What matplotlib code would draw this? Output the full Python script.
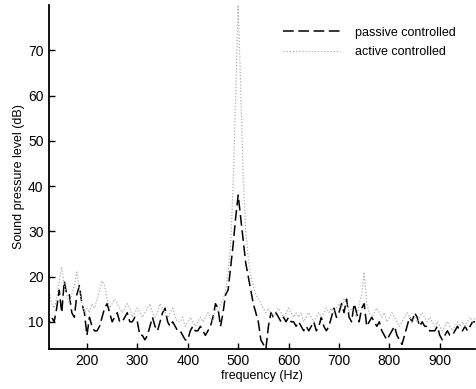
import numpy as np
import matplotlib.pyplot as plt

# =========================================================
# DATA (5 Hz steps)
# =========================================================

freq = np.arange(120, 975, 5)

passive = [
    12, 10, 11, 10, 13, 17, 12, 19, 16, 16, 12, 11, 16, 18, 14, 12,
    7, 11, 9, 8, 8, 9, 11, 13, 14, 12, 10, 11, 12, 10, 10, 11,
    12, 10, 10, 11, 10, 7, 7, 6, 7, 9, 11, 9, 8, 10, 12, 13,
    10, 9, 10, 9, 8, 8, 7, 6, 6, 8, 9, 8, 8, 9, 8, 7,
    8, 9, 11, 14, 13, 9, 12, 16, 17, 22, 27, 33, 38, 33, 28, 23,
    20, 17, 14, 12, 10, 6, 5, 4, 9, 12, 11, 12, 11, 10, 11, 10,
    11, 10, 10, 9, 10, 9, 8, 9, 8, 9, 10, 8, 9, 11, 9, 8,
    9, 11, 13, 11, 12, 14, 12, 15, 11, 10, 14, 12, 10, 13, 14, 9,
    10, 11, 10, 9, 10, 8, 7, 6, 7, 8, 9, 7, 6, 5, 7, 9,
    11, 10, 12, 11, 9, 10, 9, 9, 8, 8, 8, 9, 7, 6, 7, 8,
    7, 7, 8, 9, 8, 8, 9, 8, 9, 10, 10,
]

active = [
    16, 17, 14, 13, 15, 19, 22, 18, 16, 14, 16, 18, 21, 17, 14, 12,
    13, 12, 14, 13, 15, 17, 19, 18, 15, 13, 14, 15, 14, 13, 12, 13,
    14, 13, 11, 12, 13, 12, 11, 12, 13, 14, 12, 11, 12, 14, 13, 12,
    11, 12, 13, 11, 10, 10, 11, 9, 10, 11, 10, 9, 10, 11, 10, 11,
    12, 11, 10, 13, 12, 14, 15, 17, 21, 27, 40, 60, 80, 62, 42, 30,
    24, 20, 18, 16, 15, 14, 13, 12, 13, 12, 11, 12, 13, 12, 11, 12,
    13, 12, 11, 12, 11, 12, 10, 11, 12, 11, 10, 11, 12, 11, 12, 13,
    12, 13, 12, 13, 14, 13, 15, 14, 12, 13, 12, 11, 14, 16, 21, 14,
    12, 11, 12, 13, 12, 11, 12, 10, 11, 12, 11, 10, 9, 10, 11, 12,
    11, 10, 11, 10, 11, 12, 11, 10, 11, 10, 9, 10, 9, 8, 9, 10,
    9, 8, 9, 10, 9, 10, 9, 10, 11, 10, 11,
]

xticks = [200, 300, 400, 500, 600, 700, 800, 900]
yticks = [10, 20, 30, 40, 50, 60, 70]

# =========================================================
# PLOT
# =========================================================

plt.rcParams["font.family"] = ["Liberation Sans", "DejaVu Sans"]

fig = plt.figure(figsize=(4.77, 3.89), dpi=100)
ax = fig.add_axes([0.103, 0.103, 0.893, 0.884])

ax.plot(freq, passive, color="black", linewidth=1.1,
        linestyle=(0, (7, 3)), label="passive controlled")
ax.plot(freq, active, color="#b0b0b0", linewidth=0.9,
        linestyle=(0, (1, 1.5)), label="active controlled")

ax.set_xlim(125, 970)
ax.set_ylim(4, 80)
ax.set_xticks(xticks)
ax.set_yticks(yticks)

ax.spines["top"].set_visible(False)
ax.spines["right"].set_visible(False)
ax.spines["left"].set_linewidth(1.3)
ax.spines["bottom"].set_linewidth(1.3)
ax.tick_params(direction="in", length=4, width=1.0, labelsize=10, pad=4)

ax.set_xlabel("frequency (Hz)", fontsize=9, labelpad=1)
ax.set_ylabel("Sound pressure level (dB)", fontsize=9, labelpad=2)

ax.legend(loc="upper right", bbox_to_anchor=(0.98, 0.97), frameon=False,
          fontsize=9, handlelength=4.5, handletextpad=1.2, labelspacing=0.6)

fig.savefig("out.png", dpi=100)
